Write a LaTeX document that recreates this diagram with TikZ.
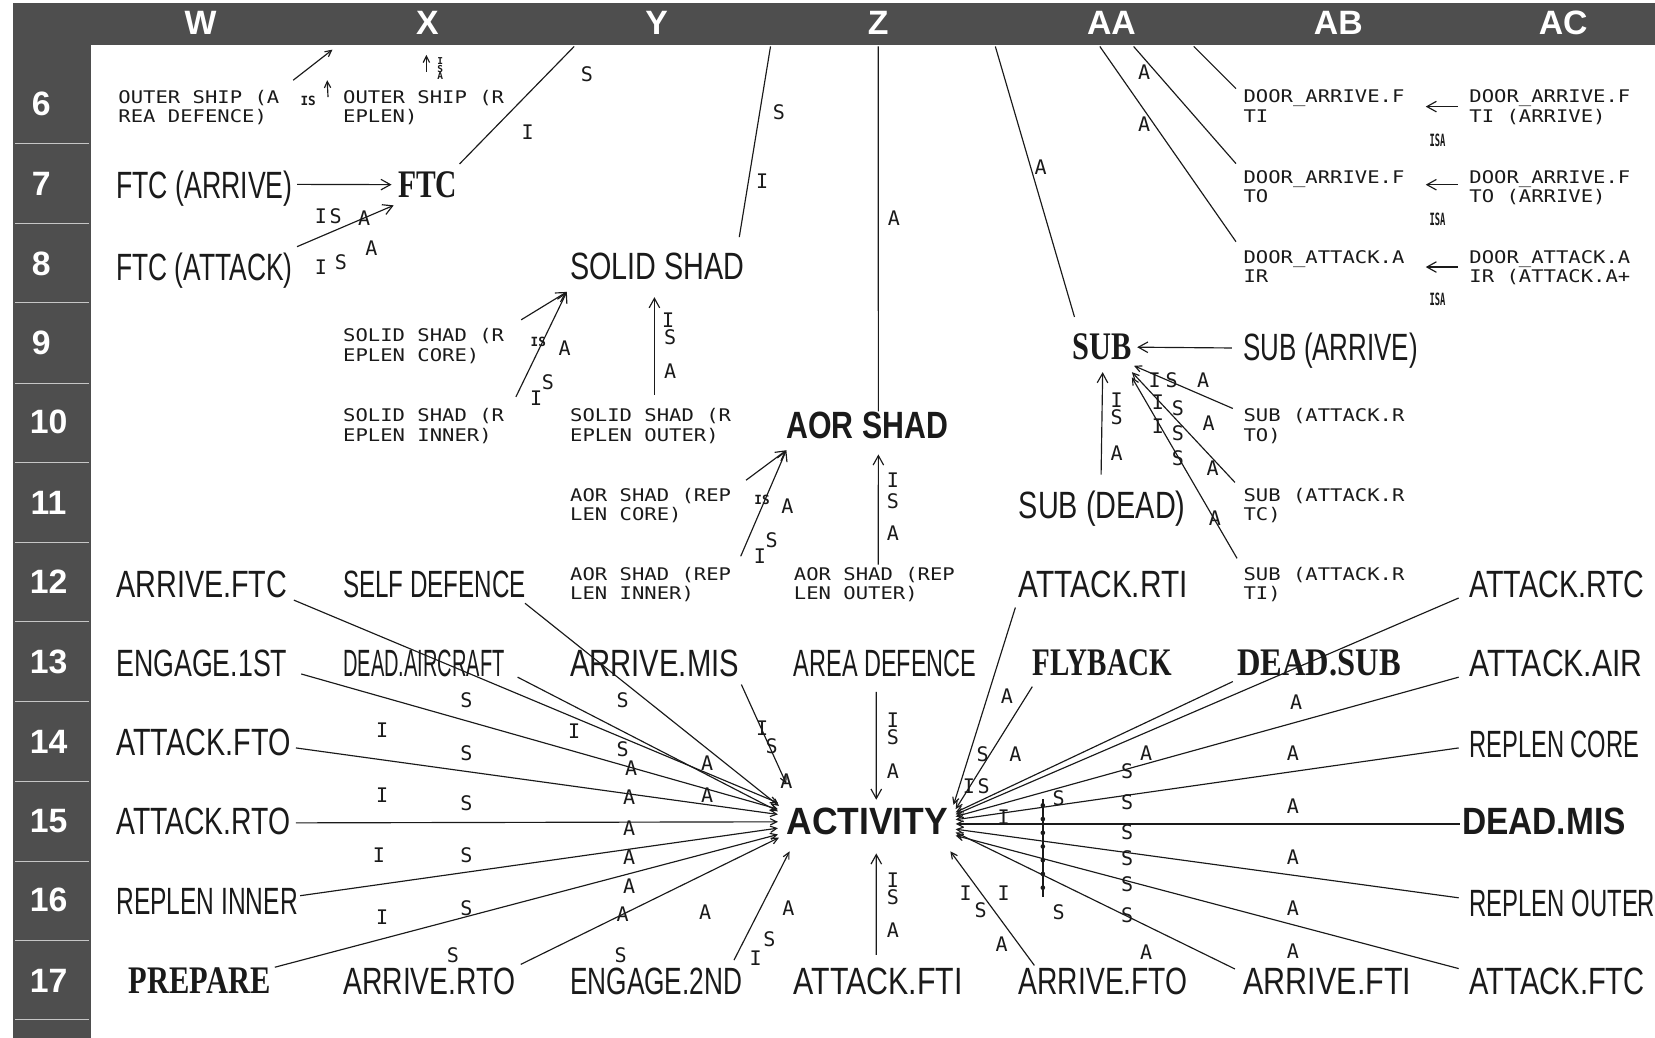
\documentclass[tikz,border=0pt]{standalone}
\usepackage{fontspec}
\setmainfont{Liberation Sans}
\newfontfamily\bigsans{Liberation Sans}
\newfontfamily\serifb{Liberation Serif}
\newfontfamily\smallmono[FakeStretch=1.18]{DejaVu Sans Mono}
\newfontfamily\labmono{DejaVu Sans Mono}
\usetikzlibrary{arrows.meta,calc}
\definecolor{barc}{HTML}{4E4E4E}
\definecolor{ink}{HTML}{1A1A1A}
\newcommand\BW[2]{\resizebox{#1pt}{\height}{#2}}
\newcounter{labc}
\newcommand\lab[3]{\stepcounter{labc}\node[lab] (lab\arabic{labc}) at (#1,#2) {#3};}
\newcommand\tlab[3]{\stepcounter{labc}\node[tlab] (lab\arabic{labc}) at (#1,#2) {#3};}
\begin{document}
\begin{tikzpicture}[x=1pt,y=-1pt,
  big/.style={font=\bigsans\fontsize{36}{40}\selectfont, inner sep=0pt, anchor=base west, text=ink},
  bigb/.style={font=\bigsans\bfseries\fontsize{36}{40}\selectfont, inner sep=0pt, anchor=base west, text=ink},
  serb/.style={font=\serifb\bfseries\fontsize{37}{40}\selectfont, inner sep=0pt, anchor=base west, text=ink},
  sm/.style={font=\smallmono\fontsize{16.5}{18.3}\selectfont, inner sep=0pt, anchor=north west, align=left, text=ink},
  lab/.style={font=\labmono\fontsize{19}{20}\selectfont, inner sep=0pt, text=ink},
  tlab/.style={font=\labmono\bfseries\fontsize{12}{13}\selectfont, inner sep=0pt, text=ink},
  mlab/.style={font=\labmono\bfseries\fontsize{16}{17}\selectfont, inner sep=0pt, text=ink},
  hdr/.style={font=\bigsans\bfseries\fontsize{32}{34}\selectfont, inner sep=0pt, text=white},
  conn/.style={draw=ink, line width=1.1pt},
  arr/.style={conn, -{Straight Barb[length=9pt,width=10pt]}},
  farr/.style={conn, -{Straight Barb[length=6pt,width=6pt]}}
]
\useasboundingbox (0,0) rectangle (1568,983);
\fill[white] (0,0) rectangle (1568,983);
% frame
\fill[barc] (12,3) rectangle (1568,43);
\fill[barc] (12,3) rectangle (86,983);
\foreach \yy in {136,212,287,363,438,514,589,665,740,816,891,966}
  \draw[gray!45, line width=1pt] (14,\yy) -- (84,\yy);
\node[hdr] (cW) at (190,22) {W};
\node[hdr] (cX) at (405,22) {X};
\node[hdr] (cY) at (622,22) {Y};
\node[hdr] (cZ) at (832,22) {Z};
\node[hdr] (cAA) at (1053,22) {AA};
\node[hdr] (cAB) at (1268,22) {AB};
\node[hdr] (cAC) at (1481,22) {AC};
\node[hdr] (r6) at (39,98) {6};
\node[hdr] (r7) at (39,174) {7};
\node[hdr] (r8) at (39,250) {8};
\node[hdr] (r9) at (39,325) {9};
\node[hdr] (r10) at (46,400) {10};
\node[hdr] (r11) at (46,476) {11};
\node[hdr] (r12) at (46,551) {12};
\node[hdr] (r13) at (46,627) {13};
\node[hdr] (r14) at (46,703) {14};
\node[hdr] (r15) at (46,778) {15};
\node[hdr] (r16) at (46,853) {16};
\node[hdr] (r17) at (46,929) {17};

% small two-line nodes
\node[sm] (os1) at (112,85) {OUTER SHIP (A\\REA DEFENCE)};
\node[sm] (os2) at (325,85) {OUTER SHIP (R\\EPLEN)};
\node[sm] (d1) at (1178,85) {DOOR\_ARRIVE.F\\TI};
\node[sm] (d1a) at (1392,85) {DOOR\_ARRIVE.F\\TI (ARRIVE)};
\node[sm] (d2) at (1178,161) {DOOR\_ARRIVE.F\\TO};
\node[sm] (d2a) at (1392,161) {DOOR\_ARRIVE.F\\TO (ARRIVE)};
\node[sm] (d3) at (1178,237) {DOOR\_ATTACK.A\\IR};
\node[sm] (d3a) at (1392,237) {DOOR\_ATTACK.A\\IR (ATTACK.A+};
\node[sm] (ss1) at (325,311) {SOLID SHAD (R\\EPLEN CORE)};
\node[sm] (ss2) at (325,387) {SOLID SHAD (R\\EPLEN INNER)};
\node[sm] (ss3) at (540,387) {SOLID SHAD (R\\EPLEN OUTER)};
\node[sm] (sb1) at (1178,387) {SUB (ATTACK.R\\TO)};
\node[sm] (ao1) at (540,462) {AOR SHAD (REP\\LEN CORE)};
\node[sm] (sb2) at (1178,462) {SUB (ATTACK.R\\TC)};
\node[sm] (ao2) at (540,537) {AOR SHAD (REP\\LEN INNER)};
\node[sm] (ao3) at (752,537) {AOR SHAD (REP\\LEN OUTER)};
\node[sm] (sb3) at (1178,537) {SUB (ATTACK.R\\TI)};

% big nodes
\node[big] (ftcA) at (110,188) {\BW{167}{FTC (ARRIVE)}};
\node[serb] (ftc) at (377,187) {\BW{56}{FTC}};
\node[big] (ftcT) at (110,266) {\BW{167}{FTC (ATTACK)}};
\node[big] (solid) at (540,265) {\BW{165}{SOLID SHAD}};
\node[serb] (sub) at (1016,341) {\BW{56}{SUB}};
\node[big] (subA) at (1178,342) {\BW{165}{SUB (ARRIVE)}};
\node[bigb] (aor) at (745,415) {\BW{153}{AOR SHAD}};
\node[big] (subD) at (965,491) {\BW{158}{SUB (DEAD)}};
\node[big] (afc) at (110,566) {\BW{162}{ARRIVE.FTC}};
\node[big] (sd) at (325,566) {\BW{173}{SELF DEFENCE}};
\node[big] (rti) at (965,566) {\BW{160}{ATTACK.RTI}};
\node[big] (rtc) at (1392,566) {\BW{166}{ATTACK.RTC}};
\node[big] (e1) at (110,641) {\BW{162}{ENGAGE.1ST}};
\node[big] (da) at (325,641) {\BW{153}{DEAD.AIRCRAFT}};
\node[big] (amis) at (540,641) {\BW{160}{ARRIVE.MIS}};
\node[big] (ad) at (752,641) {\BW{173}{AREA DEFENCE}};
\node[serb] (fly) at (978,640) {\BW{132}{FLYBACK}};
\node[serb] (dsub) at (1172,640) {\BW{155}{DEAD.SUB}};
\node[big] (air) at (1392,641) {\BW{164}{ATTACK.AIR}};
\node[big] (afo) at (110,716) {\BW{165}{ATTACK.FTO}};
\node[big] (rcore) at (1392,718) {\BW{161}{REPLEN CORE}};
\node[big] (aro) at (110,791) {\BW{165}{ATTACK.RTO}};
\node[bigb] (act) at (745,791) {\BW{153}{ACTIVITY}};
\node[bigb] (dmis) at (1385,791) {\BW{155}{DEAD.MIS}};
\node[big] (ri) at (110,866) {\BW{172}{REPLEN INNER}};
\node[big] (rout) at (1392,868) {\BW{176}{REPLEN OUTER}};
\node[serb] (prep) at (122,941) {\BW{134}{PREPARE}};
\node[big] (arto) at (325,942) {\BW{163}{ARRIVE.RTO}};
\node[big] (e2) at (540,942) {\BW{163}{ENGAGE.2ND}};
\node[big] (atfi) at (752,942) {\BW{160}{ATTACK.FTI}};
\node[big] (afto) at (965,942) {\BW{160}{ARRIVE.FTO}};
\node[big] (afti) at (1178,942) {\BW{159}{ARRIVE.FTI}};
\node[big] (atfc) at (1392,942) {\BW{166}{ATTACK.FTC}};

% free ends at the top bar
\coordinate (tOS1) at (315,47);
\coordinate (tOS2) at (404,52);
\coordinate (tFTC) at (544,44);
\coordinate (tSol) at (730,44);
\coordinate (tAor) at (832,44);
\coordinate (tSub) at (943,44);
\coordinate (tD1) at (1131,44);
\coordinate (tD2) at (1074,44);
\coordinate (tD3) at (1042,44);
\coordinate (tOS1b) at (310,76);

% top connectors
\draw[farr] ($(os1.north east)+(13,-9)$) -- (tOS1);
\draw[farr] ($(os1.north east)+(46,7)$) -- (tOS1b);
\draw[farr] ($(os2.north west)+(79,-17)$) -- (tOS2);
\draw[conn] ($(ftc.north east)+(2,-7)$) -- (tFTC);
\draw[arr] ($(ftcA.east)+(4,-4)$) -- ($(ftc.west)+(-6,0)$);
\draw[arr] ($(ftcT.north east)+(4,-6)$) -- ($(ftc.south west)+(-4,7)$);
\draw[conn] ($(solid.north east)+(-5,-15)$) -- (tSol);
\draw[conn] ($(aor.north)+(10.5,0)$) -- (tAor);
\draw[conn] ($(sub.north west)+(2,-16)$) -- (tSub);
\draw[conn] ($(d3.north west)+(-7,-8)$) -- (tD3);
\draw[conn] ($(d2.north west)+(-7,-6)$) -- (tD2);
\draw[conn] ($(d1.north west)+(-7,-1)$) -- (tD1);
\draw[arr] ($(d1a.north west)+(-11,16)$) -- ($(d1.north east)+(20,16)$);
\draw[arr] ($(d2a.north west)+(-11,14)$) -- ($(d2.north east)+(20,14)$);
\draw[arr] ($(d3a.north west)+(-11,16)$) -- ($(d3.north east)+(20,16)$);

% solid shad / aor shad
\draw[arr] ($(ss1.north east)+(16,-8)$) -- ($(solid.south west)+(-3,11)$);
\draw[arr] ($(ss2.north east)+(11,-11)$) -- ($(solid.south west)+(-3,11)$);
\draw[arr] ($(ss3.north west)+(80,-13)$) -- ($(solid.south west)+(80,16)$);
\draw[arr] ($(ao1.north east)+(14,-7)$) -- ($(aor.south west)+(0,11)$);
\draw[arr] ($(ao2.north east)+(9,-10)$) -- ($(aor.south west)+(0,11)$);
\draw[arr] ($(ao3.north west)+(80,-2)$) -- ($(aor.south)+(10.5,15)$);

% sub
\draw[arr] ($(subA.west)+(-11,-3)$) -- ($(sub.east)+(5,0)$);
\draw[arr] ($(subD.north)+(-1,-15)$) -- ($(sub.south)+(0.5,11)$);
\draw[farr] ($(sb1.north west)+(-10,0)$) -- ($(sub.south east)+(2,5)$);
\draw[farr] ($(sb2.north west)+(-8,-5)$) -- ($(sub.south east)+(0,11)$);
\draw[farr] ($(sb3.north west)+(-6,-8)$) -- ($(sub.south east)+(0,16)$);

% activity verticals
\draw[arr] ($(ad.south)+(-8.5,14)$) -- ($(act.north)+(8.5,-8)$);
\draw[arr] ($(atfi.north)+(-2,-12)$) -- ($(act.south)+(8.5,17)$);

% left fan
\draw[farr] ($(afc.south east)+(6,2)$) -- ($(act.west)+(-8,-18)$);
\draw[farr] ($(sd.south east)+(-1,5)$) -- ($(act.west)+(-7,-15)$);
\draw[farr] ($(e1.south east)+(13,-3)$) -- ($(act.west)+(-8,-12)$);
\draw[farr] ($(da.south east)+(12,0)$) -- ($(act.west)+(-8,-10)$);
\draw[farr] ($(amis.south east)+(2,7)$) -- ($(act.west)+(0,-36)$);
\draw[farr] ($(afo.east)+(5,5)$) -- ($(act.west)+(-8,-7)$);
\draw[farr] ($(aro.east)+(5,1)$) -- ($(act.west)+(-8,0)$);
\draw[farr] ($(ri.east)+(2,-5)$) -- ($(act.west)+(-8,6)$);
\draw[farr] ($(prep.north east)+(4,0)$) -- ($(act.west)+(-8,12)$);
\draw[farr] ($(arto.north east)+(5,-3)$) -- ($(act.west)+(-7,15)$);
\draw[farr] ($(e2.north east)+(-8,-7)$) -- ($(act.west)+(3,28)$);

% right fan
\draw[farr] ($(rti.south west)+(-3,9)$) -- ($(act.east)+(5,-16)$);
\draw[farr] ($(fly.south west)+(0,10)$) -- ($(act.east)+(7,-12)$);
\draw[farr] ($(dsub.south west)+(-4,5)$) -- ($(act.east)+(7,-9)$);
\draw[farr] ($(rtc.south west)+(-10,0)$) -- ($(act.east)+(7,-7)$);
\draw[farr] ($(air.south west)+(-10,0)$) -- ($(act.east)+(7,-5)$);
\draw[farr] ($(rcore.west)+(-10,3)$) -- ($(act.east)+(7,-2)$);
\draw[farr] ($(dmis.west)+(-2,2)$) -- ($(act.east)+(7,2)$);
\draw[farr] ($(rout.west)+(-10,-5)$) -- ($(act.east)+(7,7)$);
\draw[farr] ($(afti.north west)+(-8,1)$) -- ($(act.east)+(7,10)$);
\draw[farr] ($(atfc.north west)+(-10,1)$) -- ($(act.east)+(7,13)$);
\draw[farr] ($(afto.north west)+(15,-2)$) -- ($(act.east)+(2,28)$);

% stacked label marks (dotted bar) on the right fan
\draw[ink, line width=1.4pt] (988,757) -- (988,850);
\foreach \yy in {763,776,789,802,815,828,841}
  \fill[ink] (988,\yy) circle (2.2pt);

% labels top
\tlab{292}{96}{IS}
\stepcounter{labc}\node[tlab, align=center, font=\labmono\bfseries\fontsize{9}{7.5}\selectfont] (osIsa) at (417,65) {I\\S\\A};
\lab{556}{70}{S}\lab{500}{125}{I}
\lab{738}{106}{S}\lab{722}{172}{I}
\lab{847}{207}{A}
\lab{986}{158}{A}
\lab{1084}{68}{A}\lab{1084}{118}{A}
\stepcounter{labc}\node[mlab] (isa1) at (1362,133) {\BW{15}{ISA}};
\stepcounter{labc}\node[mlab] (isa2) at (1362,208) {\BW{15}{ISA}};
\stepcounter{labc}\node[mlab] (isa3) at (1362,284) {\BW{15}{ISA}};
\lab{304}{205}{I}\lab{318}{205}{S}\lab{345}{207}{A}
\lab{304}{253}{I}\lab{323}{248}{S}\lab{352}{235}{A}
% solid / aor
\tlab{510}{324}{IS}\lab{535}{330}{A}\lab{519}{362}{S}\lab{508}{377}{I}
\lab{633}{303}{I}\lab{635}{319}{S}\lab{635}{352}{A}
\tlab{722}{474}{IS}\lab{746}{480}{A}\lab{731}{512}{S}\lab{720}{527}{I}
\lab{846}{455}{I}\lab{846}{475}{S}\lab{846}{505}{A}
% sub
\lab{1058}{379}{I}\lab{1058}{395}{S}\lab{1058}{429}{A}
\lab{1094}{360}{I}\lab{1110}{360}{S}\lab{1140}{360}{A}
\lab{1097}{381}{I}\lab{1116}{387}{S}\lab{1145}{401}{A}
\lab{1097}{404}{I}\lab{1116}{410}{S}\lab{1116}{434}{S}\lab{1149}{444}{A}\lab{1151}{491}{A}
% left fan labels
\lab{442}{663}{S}\lab{590}{663}{S}
\lab{362}{692}{I}\lab{544}{693}{I}
\lab{442}{714}{S}\lab{590}{710}{S}\lab{598}{728}{A}\lab{670}{723}{A}
\lab{362}{753}{I}\lab{442}{761}{S}\lab{596}{755}{A}\lab{670}{753}{A}
\lab{596}{785}{A}
\lab{359}{810}{I}\lab{442}{810}{S}\lab{596}{812}{A}
\lab{596}{840}{A}
\lab{362}{869}{I}\lab{442}{860}{S}\lab{590}{866}{A}\lab{668}{864}{A}\lab{747}{860}{A}
\lab{429}{905}{S}\lab{588}{905}{S}\lab{729}{890}{S}\lab{716}{908}{I}
\lab{722}{690}{I}\lab{731}{707}{S}\lab{745}{740}{A}
\lab{846}{682}{I}\lab{846}{698}{S}\lab{846}{731}{A}
\lab{846}{834}{I}\lab{846}{850}{S}\lab{846}{881}{A}
% right fan labels
\lab{954}{660}{A}
\lab{931}{715}{S}\lab{962}{715}{A}
\lab{1086}{714}{A}\lab{1228}{665}{A}\lab{1225}{714}{A}
\lab{918}{745}{I}\lab{932}{745}{S}
\lab{1003}{756}{S}
\lab{1068}{731}{S}\lab{1068}{760}{S}\lab{1068}{788}{S}\lab{1068}{813}{S}\lab{1068}{838}{S}\lab{1068}{867}{S}
\lab{1225}{764}{A}\lab{1225}{812}{A}\lab{1225}{860}{A}
\lab{951}{774}{I}
\lab{915}{846}{I}\lab{951}{846}{I}\lab{929}{862}{S}\lab{1003}{864}{S}\lab{949}{895}{A}
\lab{1086}{902}{A}\lab{1225}{901}{A}
\end{tikzpicture}
\end{document}
